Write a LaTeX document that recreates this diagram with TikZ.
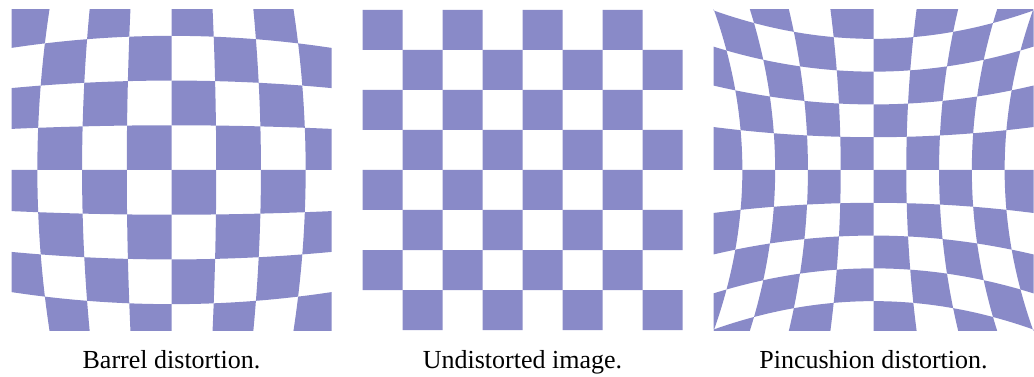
\documentclass[tikz,border=0pt]{standalone}
\usepackage{fontspec}
\setmainfont{Liberation Serif}
\usepackage{xcolor}
\definecolor{tile}{HTML}{898AC8}

% board point (u,v) -> warped point; \R = panel half-width, \kk = warp strength
\newcommand{\warppt}[2]{({\R*(#1)*(1+(\kk)*(#2)*(#2))},{\R*(#2)*(1+(\kk)*(#1)*(#1))})}
% an upright tile edge at u=#1 from v=#2 to v=#3 (maps to an exact parabola)
\newcommand{\warpv}[3]{ .. controls
  ({\R*(#1)*(1+(\kk)*(#2)*((#2)+2*(#3))/3)},{\R*(2*(#2)+(#3))/3*(1+(\kk)*(#1)*(#1))}) and
  ({\R*(#1)*(1+(\kk)*(#3)*((#3)+2*(#2))/3)},{\R*((#2)+2*(#3))/3*(1+(\kk)*(#1)*(#1))}) .. \warppt{#1}{#3}}
% a level tile edge at v=#1 from u=#2 to u=#3
\newcommand{\warph}[3]{ .. controls
  ({\R*(2*(#2)+(#3))/3*(1+(\kk)*(#1)*(#1))},{\R*(#1)*(1+(\kk)*(#2)*((#2)+2*(#3))/3)}) and
  ({\R*((#2)+2*(#3))/3*(1+(\kk)*(#1)*(#1))},{\R*(#1)*(1+(\kk)*(#3)*((#3)+2*(#2))/3)}) .. \warppt{#3}{#1}}
% one filled tile, column #1, row #2
\newcommand{\warpcell}[2]{%
  \pgfmathsetmacro\ua{(#1)*\cw}\pgfmathsetmacro\ub{(#1+1)*\cw}%
  \pgfmathsetmacro\va{(#2)*\cw}\pgfmathsetmacro\vb{(#2+1)*\cw}%
  \fill[tile] \warppt{\ua}{\va} \warph{\va}{\ua}{\ub} \warpv{\ub}{\va}{\vb}
    \warph{\vb}{\ub}{\ua} \warpv{\ua}{\vb}{\va} -- cycle;}

\begin{document}
\begin{tikzpicture}[x=0.025cm, y=0.025cm]
  \def\R{160}
  \useasboundingbox (0,0) rectangle (1034,376);
  \tikzset{
    caption/.style={anchor=base, font=\fontsize{18.5}{22}\selectfont, text=black},
    board/.style={shift={(#1,206)}}}

  % ========== barrel: corners pulled in ==========
  \begin{scope}[board=171.5]
    \clip (-\R,-\R) rectangle (\R,\R);
    \def\kk{-0.08}\def\cw{0.2795}
    \foreach \i in {-5,...,4} \foreach \j in {-5,...,4} {
      \ifodd\numexpr\i+\j\relax \warpcell{\i}{\j}\fi}
  \end{scope}
  \node[caption] (barrelcap) at (171.5,8) {Barrel distortion.};

  % ========== the plain board, 8 x 8 ==========
  \begin{scope}[board=522.5]
    \def\kk{0}\def\cw{0.25}
    \foreach \i in {-4,...,3} \foreach \j in {-4,...,3} {
      \ifodd\numexpr\i+\j\relax \warpcell{\i}{\j}\fi}
  \end{scope}
  \node[caption] (plaincap) at (522.5,8) {Undistorted image.};

  % ========== pincushion: corners pushed out ==========
  \begin{scope}[board=873.5]
    \clip (-\R,-\R) rectangle (\R,\R);
    \def\kk{0.32}\def\cw{0.2049}
    \foreach \i in {-5,...,4} \foreach \j in {-5,...,4} {
      \ifodd\numexpr\i+\j\relax \warpcell{\i}{\j}\fi}
  \end{scope}
  \node[caption] (pincap) at (873.5,8) {Pincushion distortion.};
\end{tikzpicture}
\end{document}
